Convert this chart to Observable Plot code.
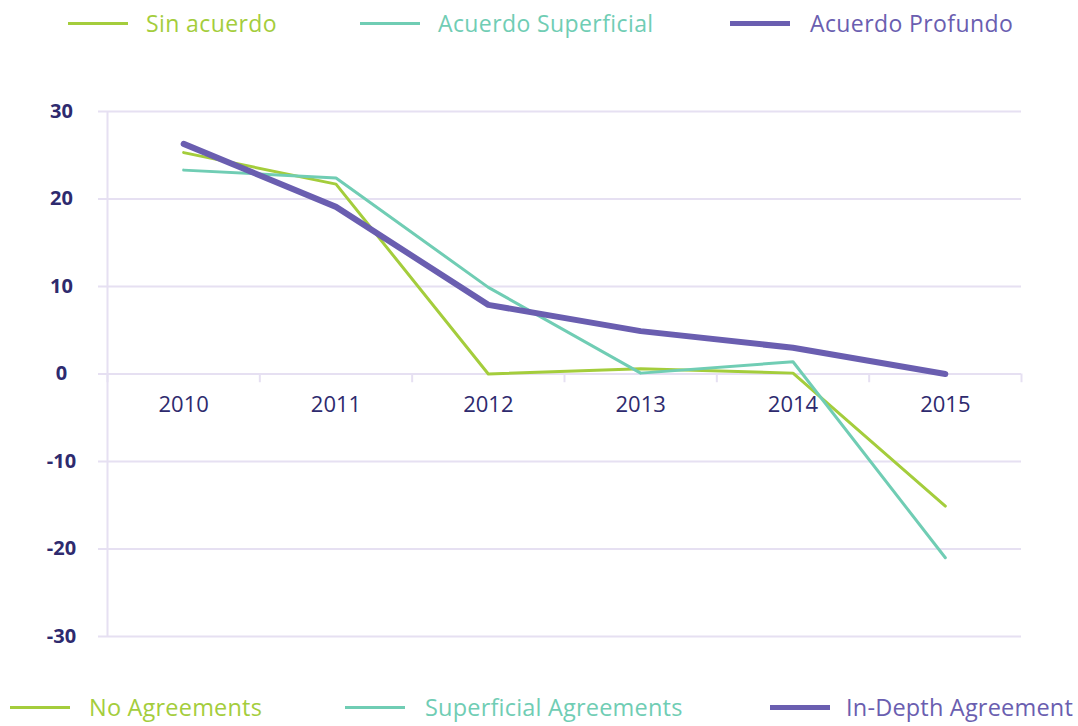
<!DOCTYPE html>
<html><head><meta charset="utf-8">
<script src="https://cdn.jsdelivr.net/npm/d3@7"></script>
<script src="https://cdn.jsdelivr.net/npm/@observablehq/plot@0.6"></script>
<style>
body{margin:0;background:#fff;font-family:"Open Sans",sans-serif;}
#wrap{position:relative;width:1078px;height:726px;overflow:hidden;}
.item{position:absolute;height:26px;line-height:26px;white-space:nowrap;}
.sw{position:absolute;height:0;}
#chart{position:absolute;left:0;top:48px;}
</style></head><body>
<div id="wrap">
<div id="legendTop"></div>
<div id="chart"></div>
<div id="legendBottom"></div>
</div>
<script>
const years = [2010, 2011, 2012, 2013, 2014, 2015];
const sinAcuerdo = [25.3, 21.7, 0, 0.6, 0.1, -15.1];
const superficial = [23.3, 22.4, 9.9, 0.1, 1.4, -21.0];
const profundo = [26.3, 19.1, 7.9, 4.9, 3.0, 0];
const seriesEs = ["Sin acuerdo", "Acuerdo Superficial", "Acuerdo Profundo"];
const seriesEn = ["No Agreements", "Superficial Agreements", "In-Depth Agreement"];
const yTicks = [-30, -20, -10, 0, 10, 20, 30];

const colors = ["#a4cd3c", "#70cdb4", "#6a5eb0"];
const widths = [3, 3, 6];
const navy = "#2e2a6e";
const grid = "#e6e0f2";
const values = [sinAcuerdo, superficial, profundo];

// legends
function legend(el, labels, swatchX, textX, cy, fontSize, spacing) {
  labels.forEach((lab, i) => {
    const sw = document.createElement("div");
    sw.className = "sw";
    sw.style.left = swatchX[i] + "px";
    sw.style.width = "60px";
    const w = i === 2 ? 5 : 3;
    sw.style.top = (cy - w / 2) + "px";
    sw.style.borderTop = w + "px solid " + colors[i];
    el.appendChild(sw);
    const t = document.createElement("div");
    t.className = "item";
    t.style.left = textX[i] + "px";
    t.style.top = (cy - 13) + "px";
    t.style.fontSize = fontSize + "px";
    t.style.letterSpacing = spacing + "px";
    t.style.color = colors[i];
    t.textContent = lab;
    el.appendChild(t);
  });
}
legend(document.getElementById("legendTop"), seriesEs, [68, 360, 730], [146, 438, 810], 23, 23, 0.4);
legend(document.getElementById("legendBottom"), seriesEn, [10, 345, 770], [89, 425, 846], 707, 23.5, 0.2);

const bounds = years.map(y => y - 0.5).concat([years[years.length - 1] + 0.5]);

const chart = Plot.plot({
  width: 1078,
  height: 652,
  marginTop: 63,
  marginBottom: 64,
  marginLeft: 107,
  marginRight: 57,
  style: {fontFamily: "'Open Sans', sans-serif", background: "transparent"},
  x: {domain: [bounds[0], bounds[bounds.length - 1]], axis: null},
  y: {domain: [-30, 30], axis: null},
  marks: [
    Plot.ruleY(yTicks, {stroke: grid, strokeWidth: 2, insetLeft: -9}),
    Plot.ruleX([bounds[0]], {stroke: grid, strokeWidth: 2}),
    Plot.ruleX(bounds, {y1: () => 0, y2: () => -1, stroke: grid, strokeWidth: 2}),
    ...values.map((v, i) => Plot.line(years, {
      x: d => d, y: (d, j) => v[j],
      stroke: colors[i], strokeWidth: widths[i], strokeLinejoin: "round", strokeLinecap: "round"
    })),
    Plot.text(yTicks, {y: d => d, frameAnchor: "left", dx: -46, text: d => String(d),
      fontWeight: 700, fontSize: 20, fill: navy, textAnchor: "middle"}),
    Plot.text(years, {x: d => d, y: () => 0, dy: 31, text: d => String(d),
      fontSize: 22, fill: navy, fontWeight: 500})
  ]
});
document.getElementById("chart").appendChild(chart);
</script>
</body></html>
